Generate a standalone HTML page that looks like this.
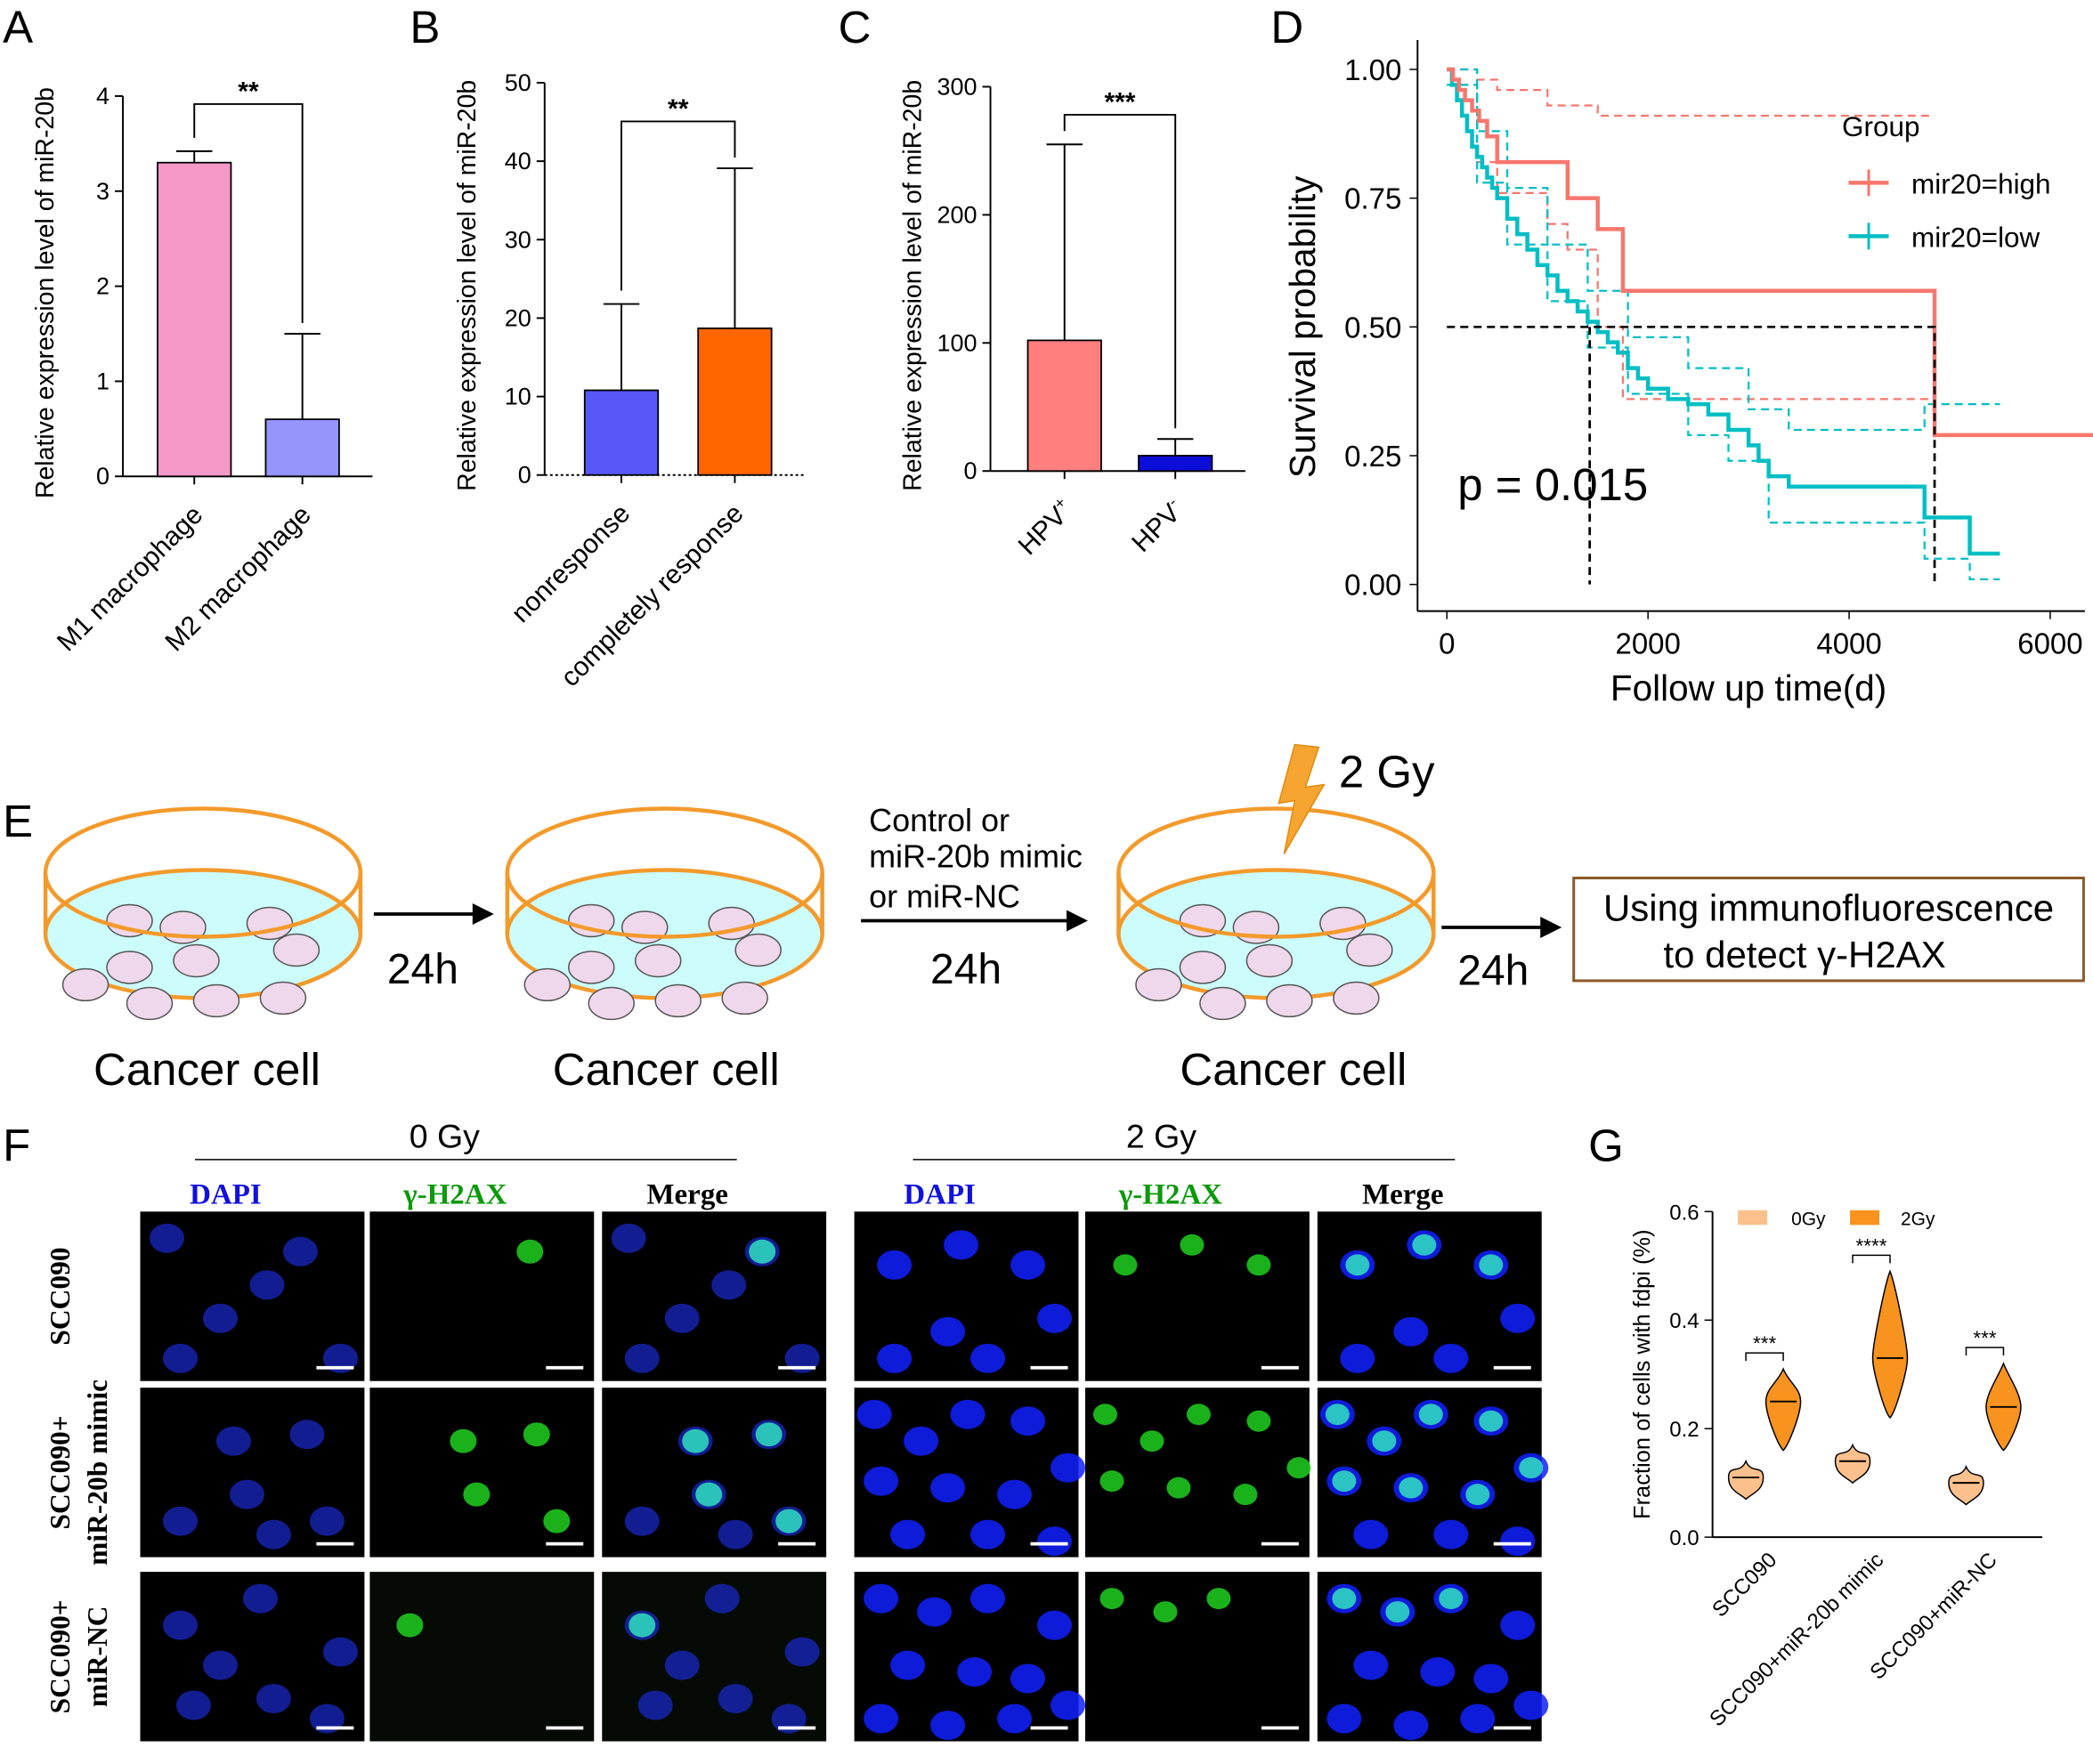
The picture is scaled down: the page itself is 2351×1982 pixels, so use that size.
<!DOCTYPE html>
<html><head><meta charset="utf-8"><style>
html,body{margin:0;padding:0;background:#fff}
svg{display:block;font-family:"Liberation Sans",Arial,sans-serif}
.ser{font-family:"Liberation Serif",serif;font-weight:bold}
</style></head><body>
<svg id="fig" width="2351" height="1982" viewBox="0 0 1568 1322" xmlns="http://www.w3.org/2000/svg">
<g id="root"></g>
</svg>
<script>
// ---------- data ----------
const aCats=["M1 macrophage","M2 macrophage"], aVals=[3.3,0.6], aErr=[3.42,1.5], aTicks=[0,1,2,3,4];
const bCats=["nonresponse","completely response"], bVals=[10.8,18.7], bErr=[21.8,39.1], bTicks=[0,10,20,30,40,50];
const cCats=["HPV+","HPV-"], cVals=[102,12], cErr=[255,25], cTicks=[0,100,200,300];
const kmXTicks=[0,2000,4000,6000], kmYTicks=[0,0.25,0.5,0.75,1.0];
const highT=[0,60,120,180,250,320,400,500,1000,1200,1500,1750,4850,4850,6500];
const highS=[1.0,0.98,0.96,0.94,0.92,0.90,0.87,0.82,0.82,0.75,0.69,0.57,0.57,0.29,0.29];
const highUpT=[0,300,500,1000,1500,4850]; const highUpS=[1.0,0.98,0.96,0.93,0.91,0.91];
const highLoT=[0,300,500,1000,1200,1500,1750,4850]; const highLoS=[0.97,0.82,0.76,0.70,0.65,0.50,0.36,0.36];
const lowT=[0,50,100,150,200,250,300,350,400,450,500,600,700,800,900,1000,1100,1200,1300,1400,1500,1600,1700,1800,1900,2000,2200,2400,2600,2800,3000,3100,3200,3400,4700,4750,5200,5500];
const lowS=[1.0,0.97,0.94,0.91,0.88,0.85,0.83,0.81,0.79,0.77,0.75,0.71,0.68,0.65,0.62,0.60,0.57,0.55,0.53,0.51,0.49,0.47,0.45,0.42,0.40,0.38,0.36,0.35,0.33,0.30,0.27,0.24,0.21,0.19,0.19,0.13,0.06,0.06];
const lowUpT=[0,300,600,1000,1400,1800,2400,3000,3400,4700,4750,5200,5500];
const lowUpS=[1.0,0.88,0.77,0.66,0.57,0.48,0.42,0.34,0.30,0.30,0.35,0.35,0.35];
const lowLoT=[0,300,600,1000,1400,1800,2400,2800,3200,4700,4750,5200,5500];
const lowLoS=[0.97,0.78,0.66,0.55,0.46,0.37,0.29,0.24,0.12,0.12,0.05,0.01,0.01];
const gCats=["SCC090","SCC090+miR-20b mimic","SCC090+miR-NC"];
const gMed0=[0.11,0.14,0.10], gMin0=[0.07,0.10,0.06], gMax0=[0.14,0.17,0.13];
const gMed2=[0.25,0.33,0.24], gMin2=[0.16,0.22,0.16], gMax2=[0.31,0.49,0.32];
const gTicks=[0,0.2,0.4,0.6];

const NS="http://www.w3.org/2000/svg", root=document.getElementById('root');
function el(tag,attrs,parent,text){const e=document.createElementNS(NS,tag);for(const k in attrs)e.setAttribute(k,attrs[k]);if(text!==undefined)e.textContent=text;(parent||root).appendChild(e);return e;}

function label(t,x,y){const e=el('text',{x:x,y:y,'font-size':34},root,t);}

// ---------- bar panels ----------
function barPanel(id,ax,y0,y1,vmax,ticks,vals,errs,cats,xs,color,stars,bracketY,ytitle,dotted){
  const g=el('g',{});
  const sy=v=>y0-(y0-y1)*v/vmax;
  el('line',{x1:ax,y1:sy(0),x2:ax,y2:sy(vmax),stroke:'#000','stroke-width':1.3},g);
  ticks.forEach(t=>{el('line',{x1:ax-6,y1:sy(t),x2:ax,y2:sy(t),stroke:'#000','stroke-width':1.3},g);
    const tx=el('text',{x:ax-10,y:sy(t)+6,'font-size':18,'text-anchor':'end'},g,t);});
  el('line',{x1:ax,y1:y0,x2:xs[1]+80,y2:y0,stroke:'#000','stroke-width':1.3,'stroke-dasharray':dotted?'2 2':''},g);
  vals.forEach((v,i)=>{const x=xs[i];
    const r=el('rect',{x:x,y:sy(v),width:55,height:y0-sy(v),fill:color[i],stroke:'#000','stroke-width':1.2},g);
    
    el('line',{x1:x+27.5,y1:sy(v),x2:x+27.5,y2:sy(errs[i]),stroke:'#000','stroke-width':1.3},g);
    el('line',{x1:x+14,y1:sy(errs[i]),x2:x+41,y2:sy(errs[i]),stroke:'#000','stroke-width':1.3},g);
    el('line',{x1:x+27.5,y1:y0,x2:x+27.5,y2:y0+6,stroke:'#000','stroke-width':1.3},g);
    const tl=el('text',{x:x+35,y:y0+30,'font-size':20,'text-anchor':'end',transform:`rotate(-45 ${x+35} ${y0+30})`},g);
    
    if(cats[i].startsWith('HPV')){tl.textContent='HPV';el('tspan',{'font-size':12,dy:-8},tl,cats[i].slice(3));}else tl.textContent=cats[i];
  });
  const bx1=xs[0]+27.5,bx2=xs[1]+27.5;
  el('path',{d:`M${bx1} ${sy(errs[0])-10} V${bracketY} H${bx2} V${sy(errs[1])-8}`,fill:'none',stroke:'#000','stroke-width':1.3},g);
  el('text',{x:(bx1+bx2)/2,y:bracketY-3,'font-size':20,'text-anchor':'middle','font-weight':'bold'},g,stars);
  const yt=el('text',{x:0,y:0,'font-size':19,'text-anchor':'middle',transform:`translate(${ax-52} ${(y0+sy(vmax))/2+5}) rotate(-90)`},g,ytitle);
  
}
label('A',2,32);label('B',307,32);label('C',628,32);label('D',952,32);label('E',2,627);label('F',2,870);label('G',1190,870);
barPanel('a',92,357,72,4,aTicks,aVals,aErr,aCats,[118,199],['#f799c8','#9595fb'],'**',78,'Relative expression level of miR-20b');
barPanel('b',408,356,62,50,bTicks,bVals,bErr,bCats,[438,523],['#5858f8','#ff6600'],'**',91,'Relative expression level of miR-20b',true);
barPanel('c',742,353,65,300,cTicks,cVals,cErr,cCats,[770,853],['#ff7f7f','#0d0dd8'],'***',86,'Relative expression level of miR-20b');

// ---------- KM panel ----------
(function(){
  const g=el('g',{});
  const sx=t=>1084+t*452/6000, sy=s=>438-s*386;
  el('line',{x1:1062,y1:30,x2:1062,y2:458,stroke:'#000','stroke-width':1.3},g);
  el('line',{x1:1062,y1:458,x2:1562,y2:458,stroke:'#000','stroke-width':1.3},g);
  kmYTicks.forEach(v=>{el('line',{x1:1056,y1:sy(v),x2:1062,y2:sy(v),stroke:'#000'},g);el('text',{x:1050,y:sy(v)+8,'font-size':22,'text-anchor':'end'},g,v.toFixed(2));});
  kmXTicks.forEach(v=>{el('line',{x1:sx(v),y1:458,x2:sx(v),y2:464,stroke:'#000'},g);el('text',{x:sx(v),y:490,'font-size':22,'text-anchor':'middle'},g,v);});
  el('text',{x:1310,y:525,'font-size':27,'text-anchor':'middle'},g,'Follow up time(d)');
  el('text',{x:0,y:0,'font-size':27,'text-anchor':'middle',transform:'translate(985 245) rotate(-90)'},g,'Survival probability');
  function step(T,S,col,w,dash,name){let d=`M${sx(T[0])} ${sy(S[0])}`;for(let i=1;i<T.length;i++){d+=` H${sx(T[i])} V${sy(S[i])}`;}
    const p=el('path',{d:d,fill:'none',stroke:col,'stroke-width':w,'stroke-dasharray':dash||''},g);}
  step(highUpT,highUpS,'#f8766d',1.5,'6 4','high-ci-upper');step(highLoT,highLoS,'#f8766d',1.5,'6 4','high-ci-lower');
  step(lowUpT,lowUpS,'#00bfc4',1.5,'6 4','low-ci-upper');step(lowLoT,lowLoS,'#00bfc4',1.5,'6 4','low-ci-lower');
  step(lowT,lowS,'#00bfc4',3,'','low-curve');step(highT,highS,'#f8766d',3,'','high-curve');
  el('path',{d:`M${sx(0)} ${sy(0.5)} H${sx(4850)} V${sy(0)} M${sx(1420)} ${sy(0.5)} V${sy(0)}`,fill:'none',stroke:'#000','stroke-width':1.8,'stroke-dasharray':'6 4'},g);
  el('text',{x:1092,y:375,'font-size':34},g,'p = 0.015');
  el('text',{x:1380,y:102,'font-size':21},g,'Group');
  el('line',{x1:1385,y1:137,x2:1415,y2:137,stroke:'#f8766d','stroke-width':3},g);el('line',{x1:1400,y1:127,x2:1400,y2:147,stroke:'#f8766d','stroke-width':2},g);
  el('text',{x:1432,y:145,'font-size':21},g,'mir20=high');
  el('line',{x1:1385,y1:177,x2:1415,y2:177,stroke:'#00bfc4','stroke-width':3},g);el('line',{x1:1400,y1:167,x2:1400,y2:187,stroke:'#00bfc4','stroke-width':2},g);
  el('text',{x:1432,y:185,'font-size':21},g,'mir20=low');
})();

// ---------- E diagram ----------
(function(){
  const g=el('g',{});
  function dish(cx){const o='#f39a2b';
    el('ellipse',{cx:cx,cy:700,rx:118,ry:48,fill:'#ccfcfc',stroke:o,'stroke-width':3},g);
    el('line',{x1:cx-118,y1:654,x2:cx-118,y2:700,stroke:o,'stroke-width':3},g);
    el('line',{x1:cx+118,y1:654,x2:cx+118,y2:700,stroke:o,'stroke-width':3},g);
    const cells=[[-55,-10],[-15,-5],[50,-8],[-55,25],[-5,20],[70,12],[-88,38],[-40,52],[10,50],[60,48]];
    cells.forEach(c=>el('ellipse',{cx:cx+c[0],cy:700+c[1],rx:17,ry:12,fill:'#f0d8ec',stroke:'#555'},g));
    el('ellipse',{cx:cx,cy:654,rx:118,ry:48,fill:'none',stroke:o,'stroke-width':3},g);
  }
  [152,498,956].forEach(dish);
  [[70,'Cancer cell'],[414,'Cancer cell'],[884,'Cancer cell']].forEach(t=>el('text',{x:t[0],y:813,'font-size':34},g,t[1]));
  function arrow(x1,x2,y){el('line',{x1:x1,y1:y,x2:x2-12,y2:y,stroke:'#000','stroke-width':2.5},g);el('path',{d:`M${x2} ${y} l-16 -8 v16z`},g);}
  arrow(280,370,685);arrow(645,815,690);arrow(1080,1170,695);
  el('text',{x:290,y:737,'font-size':32},g,'24h');el('text',{x:697,y:737,'font-size':32},g,'24h');el('text',{x:1092,y:738,'font-size':32},g,'24h');
  el('text',{x:651,y:623,'font-size':24},g,'Control or');el('text',{x:651,y:650,'font-size':24},g,'miR-20b mimic');el('text',{x:651,y:680,'font-size':24},g,'or miR-NC');
  el('path',{d:'M970 558 L988 560 L978 590 L992 588 L962 640 L970 600 L958 602 Z',fill:'#f7a531',stroke:'#e08a10'},g);
  el('text',{x:1003,y:590,'font-size':34},g,'2 Gy');
  const b=el('rect',{x:1179,y:658,width:382,height:77,fill:'#fff',stroke:'#8b5a2b','stroke-width':2},g);
  el('text',{x:1370,y:690,'font-size':28,'text-anchor':'middle'},g,'Using immunofluorescence');
  el('text',{x:1352,y:725,'font-size':28,'text-anchor':'middle'},g,'to detect γ-H2AX');
})();

// ---------- F images ----------
(function(){
  const g=el('g',{});
  el('text',{x:333,y:860,'font-size':25,'text-anchor':'middle'},g,'0 Gy');el('line',{x1:146,y1:869,x2:552,y2:869,stroke:'#000'},g);
  el('text',{x:870,y:860,'font-size':25,'text-anchor':'middle'},g,'2 Gy');el('line',{x1:684,y1:869,x2:1090,y2:869,stroke:'#000'},g);
  const colX=[105,277,451,640,813,987],rowY=[908,1040,1178],W=168,H=127;
  const heads=['DAPI','γ-H2AX','Merge'],hc=['#1010e0','#0a9a0a','#000'];
  colX.forEach((x,i)=>el('text',{x:x+W/2-20,y:902,'font-size':22,'text-anchor':'middle',fill:hc[i%3],class:'ser'},g,heads[i%3]));
  const rl=[['SCC090'],['SCC090+','miR-20b mimic'],['SCC090+','miR-NC']];
  rl.forEach((r,j)=>{const cy=rowY[j]+H/2;r.forEach((t,k)=>el('text',{x:0,y:0,'font-size':21,'text-anchor':'middle',class:'ser',transform:`translate(${52+k*28} ${cy}) rotate(-90)`},g,t));});
  const nuc=[[[20,20],[120,30],[60,80],[150,110],[95,55],[30,110]],[[70,40],[125,35],[80,80],[140,100],[30,100],[100,110]],[[30,40],[90,20],[150,60],[40,100],[100,95],[140,110],[60,70]]];
  const nuc2=[[[30,40],[80,25],[130,40],[70,90],[150,80],[30,110],[100,110]],[[15,20],[50,40],[85,20],[130,25],[20,70],[70,75],[120,80],[160,60],[40,110],[100,110],[150,115]],[[20,20],[60,30],[100,20],[150,40],[40,70],[90,75],[130,80],[20,110],[70,115],[120,110],[160,100]]];
  const green=[[[1,[80,40]]],[[0,[55,30]],[1,[130,35]],[2,[80,80]],[3,[40,100]]],[[0,[90,40]]]];
  for(let j=0;j<3;j++)for(let c=0;c<6;c++){const x=colX[c],y=rowY[j];
    const r=el('rect',{x:x,y:y,width:W,height:H,fill:(j==2&&c<3&&c>0)?'#050a05':'#000'},g);
    const ns=c<3?nuc[j]:nuc2[j];const ctype=c%3;
    if(ctype!=1)ns.forEach(n=>el('ellipse',{cx:x+n[0],cy:y+n[1],rx:13,ry:11,fill:c<3?'#1a2ad0':'#1020ff',opacity:c<3?0.7:0.85},g));
    if(ctype!=0){const gs=c<3?green[j].map(q=>ns[q[0]]||q[1]):ns.slice(0,j==1?8:3);
      gs.forEach(n=>el('ellipse',{cx:x+n[0],cy:y+n[1],rx:(c<3?10:9),ry:(c<3?9:8),fill:ctype==2?'#30e0c0':'#20d020',opacity:0.85},g));}
    el('line',{x1:x+W-36,y1:y+H-10,x2:x+W-8,y2:y+H-10,stroke:'#fff','stroke-width':2.5},g);
  }
})();

// ---------- G violins ----------
(function(){
  const g=el('g',{});
  const y0=1152,y1=908,sy=v=>y0-(y0-y1)*v/0.6;
  el('line',{x1:1283,y1:y0,x2:1283,y2:y1,stroke:'#000','stroke-width':1.3},g);
  el('line',{x1:1283,y1:y0,x2:1530,y2:y0,stroke:'#000','stroke-width':1.3},g);
  gTicks.forEach(t=>{el('line',{x1:1277,y1:sy(t),x2:1283,y2:sy(t),stroke:'#000'},g);el('text',{x:1273,y:sy(t)+6,'font-size':16,'text-anchor':'end'},g,t.toFixed(1));});
  el('text',{x:0,y:0,'font-size':17,'text-anchor':'middle',transform:`translate(1236 1030) rotate(-90)`},g,'Fraction of cells with fdpi (%)');
  const cx=[1322,1402,1487];
  function violin(x,mn,md,mx,col,name){const w=13,a=sy(mx),m=sy(md),b=sy(mn);
    const p=el('path',{d:`M${x} ${a} C${x+4} ${a+10} ${x+w} ${m-10} ${x+w} ${m} C${x+w} ${m+10} ${x+4} ${b-4} ${x} ${b} C${x-4} ${b-4} ${x-w} ${m+10} ${x-w} ${m} C${x-w} ${m-10} ${x-4} ${a+10} ${x} ${a}Z`,fill:col,stroke:'#000','stroke-width':1},g);
    
    el('line',{x1:x-w+3,y1:m,x2:x+w-3,y2:m,stroke:'#000','stroke-width':1.3},g);}
  gCats.forEach((c,i)=>{violin(cx[i]-14,gMin0[i],gMed0[i],gMax0[i],'#fcc08c','violin-0gy');violin(cx[i]+14,gMin2[i],gMed2[i],gMax2[i],'#f7931e','violin-2gy');
    const by=sy(gMax2[i])-12;el('path',{d:`M${cx[i]-14} ${by+6} V${by} H${cx[i]+14} V${by+6}`,fill:'none',stroke:'#000'},g);
    el('text',{x:cx[i],y:by-2,'font-size':15,'text-anchor':'middle'},g,['***','****','***'][i]);
    el('text',{x:cx[i]+10,y:y0+18,'font-size':16,'text-anchor':'end',transform:`rotate(-45 ${cx[i]+10} ${y0+18})`},g,c);});
  el('rect',{x:1302,y:907,width:22,height:11,fill:'#fcc08c'},g);el('text',{x:1342,y:918,'font-size':14},g,'0Gy');
  el('rect',{x:1386,y:907,width:22,height:11,fill:'#f7931e'},g);el('text',{x:1424,y:918,'font-size':14},g,'2Gy');
})();
</script>
</body></html>
